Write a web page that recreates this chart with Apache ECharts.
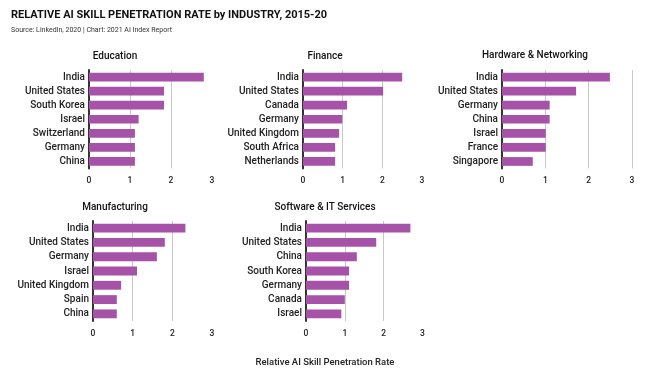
<!DOCTYPE html>
<html><head><meta charset="utf-8">
<script src="https://cdn.jsdelivr.net/npm/echarts@6/dist/echarts.min.js"></script>
<style>html,body{margin:0;padding:0;background:#fff}#c{width:649px;height:375px}</style>
</head><body><div id="c"></div>
<script>
const educationCats = ['India','United States','South Korea','Israel','Switzerland','Germany','China'];
const educationVals = [2.80, 1.83, 1.83, 1.21, 1.12, 1.12, 1.12];
const financeCats = ['India','United States','Canada','Germany','United Kingdom','South Africa','Netherlands'];
const financeVals = [2.50, 2.02, 1.11, 0.99, 0.91, 0.81, 0.81];
const hardwareCats = ['India','United States','Germany','China','Israel','France','Singapore'];
const hardwareVals = [2.49, 1.71, 1.10, 1.10, 1.01, 1.01, 0.71];
const manufacturingCats = ['India','United States','Germany','Israel','United Kingdom','Spain','China'];
const manufacturingVals = [2.33, 1.81, 1.61, 1.11, 0.71, 0.60, 0.60];
const softwareCats = ['India','United States','China','South Korea','Germany','Canada','Israel'];
const softwareVals = [2.69, 1.81, 1.31, 1.11, 1.11, 1.00, 0.91];
const panelTitles = ['Education','Finance','Hardware & Networking','Manufacturing','Software & IT Services'];
const xTicks = [0, 1, 2, 3];

const panels = [
  {cats: educationCats, vals: educationVals},
  {cats: financeCats, vals: financeVals},
  {cats: hardwareCats, vals: hardwareVals},
  {cats: manufacturingCats, vals: manufacturingVals},
  {cats: softwareCats, vals: softwareVals}
];
const layout = [
  {left: 89, top: 70, width: 123, height: 98.5, tx: 110, ty: 46, maxLine: false},
  {left: 303, top: 70, width: 119, height: 98.5, tx: 320, ty: 46, maxLine: false},
  {left: 502, top: 70, width: 130, height: 98.5, tx: 530, ty: 45, maxLine: true},
  {left: 93, top: 221, width: 119, height: 100, tx: 110, ty: 197, maxLine: false},
  {left: 306, top: 221, width: 116.4, height: 100, tx: 320, ty: 197, maxLine: false}
];
const FONT = 'Roboto';
const purple = '#a552a8';

const option = {
  animation: false,
  backgroundColor: '#fff',
  title: [
    {text: 'RELATIVE AI SKILL PENETRATION RATE by INDUSTRY, 2015-20', left: 6, top: 5,
     textStyle: {fontFamily: FONT, fontSize: 11, fontWeight: 'bold', color: '#111'}},
    {text: 'Source: LinkedIn, 2020 | Chart: 2021 AI Index Report', left: 6, top: 22,
     textStyle: {fontFamily: FONT, fontSize: 7, fontWeight: 'normal', color: '#333'}},
    {text: 'Relative AI Skill Penetration Rate', left: 320, top: 353, textAlign: 'center',
     textStyle: {fontFamily: FONT, fontSize: 9.5, fontWeight: 500, color: '#222'}}
  ].concat(panelTitles.map((t, i) => ({
    text: t, left: layout[i].tx, top: layout[i].ty, textAlign: 'center',
    textStyle: {fontFamily: FONT, fontSize: 10, fontWeight: 500, color: '#111'}
  }))),
  grid: layout.map(l => ({left: l.left, top: l.top, width: l.width, height: l.height, containLabel: false})),
  xAxis: layout.map((l, i) => ({
    type: 'value', gridIndex: i, min: xTicks[0], max: xTicks[xTicks.length - 1], interval: 1,
    axisLine: {show: false}, axisTick: {show: false},
    axisLabel: {margin: 8, fontFamily: FONT, fontSize: 8.5, fontWeight: 500, color: '#222'},
    splitLine: {show: true, showMinLine: false, showMaxLine: l.maxLine, lineStyle: {color: '#c9c9c9', width: 1}}
  })),
  yAxis: panels.map((p, i) => ({
    type: 'category', gridIndex: i, data: p.cats, inverse: true,
    axisLine: {show: true, lineStyle: {color: '#333', width: 2}},
    axisTick: {show: false},
    axisLabel: {margin: 4, fontFamily: FONT, fontSize: 10, fontWeight: 500, color: '#222'}
  })),
  series: panels.map((p, i) => ({
    type: 'bar', xAxisIndex: i, yAxisIndex: i, data: p.vals,
    barWidth: '62%', itemStyle: {color: purple}, z: 1
  }))
};
const chart = echarts.init(document.getElementById('c'), null, {renderer: 'canvas'});
chart.setOption(option);
</script>
</body></html>
